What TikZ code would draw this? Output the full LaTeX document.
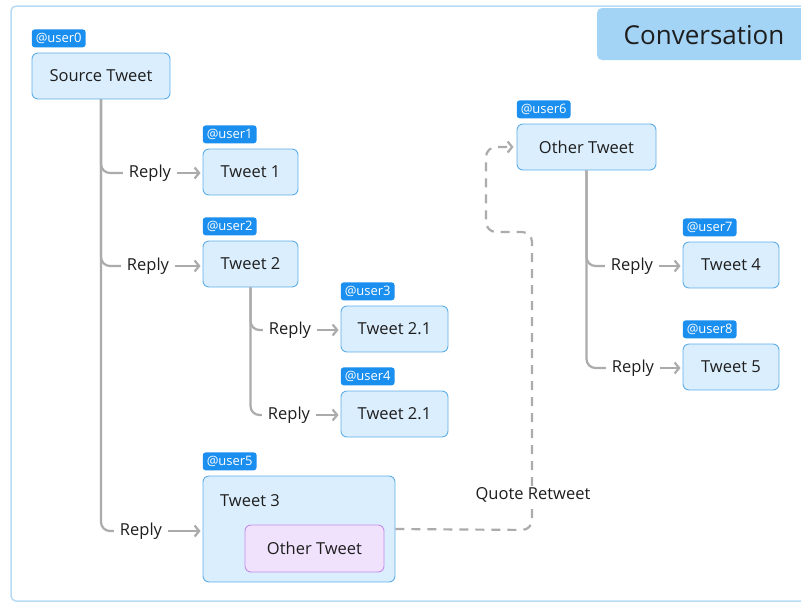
\documentclass[tikz,border=0pt]{standalone}
\usepackage{fontspec}
\setmainfont{Open Sans}
\usetikzlibrary{arrows.meta,positioning}

\definecolor{tweetfill}{HTML}{DBEEFD}
\definecolor{tweetline}{HTML}{5EAEEA}
\definecolor{tagblue}{HTML}{1A8FEF}
\definecolor{linkgray}{HTML}{ABABAB}
\definecolor{quotefill}{HTML}{F0E1FC}
\definecolor{quoteline}{HTML}{C38EEA}
\definecolor{titlefill}{HTML}{A3D4F6}
\definecolor{framecol}{HTML}{B8DBF5}
\definecolor{textcol}{HTML}{1E1E1E}

\begin{document}
\begin{tikzpicture}[x=1pt, y=-1pt, font=\fontsize{16.5}{19}\selectfont, text=textcol,
  tweet/.style={rectangle, draw=tweetline, fill=tweetfill, line width=0.9pt, rounded corners=6pt, minimum height=46pt, align=center},
  tag/.style={rectangle, fill=tagblue, text=white, rounded corners=3pt, inner xsep=4pt, inner ysep=1pt, minimum height=18pt, anchor=south west, yshift=5pt, font=\fontsize{13}{15}\selectfont},
  reply/.style={inner xsep=6pt, inner ysep=2pt},
  link/.style={draw=linkgray, line width=2.2pt, rounded corners=9pt},
  replyarrow/.style={draw=linkgray, line width=2.2pt, -{Straight Barb[length=4.5pt, width=11pt]}, shorten >=2pt},
  quote/.style={draw=linkgray, line width=2.2pt, dash pattern=on 9pt off 7pt, rounded corners=10pt, -{Straight Barb[length=4.5pt, width=11pt]}, shorten >=3pt}]

  \useasboundingbox (0,0) rectangle (801,603);
  \draw[framecol, line width=1.5pt, rounded corners=5pt] (11,6) rectangle (830,601);
  \fill[titlefill, rounded corners=5pt] (597,8) rectangle (830,60);
  \node (title) at (704,35) {\fontsize{26}{30}\selectfont Conversation};

  % Tweets
  \node[tweet, minimum width=138pt] (src) at (101,76) {Source Tweet};
  \node[tweet, minimum width=95pt] (t1) at (250.5,172) {Tweet 1};
  \node[tweet, minimum width=95pt] (t2) at (250.5,264) {Tweet 2};
  \node[tweet, minimum width=107pt] (t21) at (394.5,329) {Tweet 2.1};
  \node[tweet, minimum width=107pt] (t22) at (394.5,414) {Tweet 2.1};
  \node[tweet, minimum width=192pt, minimum height=106pt] (t3) at (299,529) {};
  \node[anchor=west, inner sep=0pt] (t3txt) at (220,501) {Tweet 3};
  \node[tweet, draw=quoteline, fill=quotefill, minimum width=139pt, minimum height=47pt] (inner) at (314.5,548.5) {Other Tweet};
  \node[tweet, minimum width=139pt] (ot) at (586.5,147) {Other Tweet};
  \node[tweet, minimum width=96pt] (t4) at (731,265) {Tweet 4};
  \node[tweet, minimum width=96pt] (t5) at (731,367) {Tweet 5};

  % User tags
  \node[tag] (u0) at (src.north west) {@user0};
  \node[tag] (u1) at (t1.north west) {@user1};
  \node[tag] (u2) at (t2.north west) {@user2};
  \node[tag] (u3) at (t21.north west) {@user3};
  \node[tag] (u4) at (t22.north west) {@user4};
  \node[tag] (u5) at (t3.north west) {@user5};
  \node[tag] (u6) at (ot.north west) {@user6};
  \node[tag] (u7) at (t4.north west) {@user7};
  \node[tag] (u8) at (t5.north west) {@user8};

  % Reply labels
  \node[reply] (r1) at (150,173) {Reply};
  \node[reply] (r2) at (148,266) {Reply};
  \node[reply] (r3) at (141,531) {Reply};
  \node[reply] (r21) at (290,330) {Reply};
  \node[reply] (r22) at (289,415) {Reply};
  \node[reply] (r4) at (632,266) {Reply};
  \node[reply] (r5) at (633,368) {Reply};

  % Reply threads
  \foreach \r in {r1,r2,r3} \draw[link] (src.south) |- (\r.west);
  \foreach \r in {r21,r22} \draw[link] (t2.south) |- (\r.west);
  \foreach \r in {r4,r5} \draw[link] (ot.south) |- (\r.west);
  \draw[replyarrow] (r1) -- (t1.west |- r1);
  \draw[replyarrow] (r2) -- (t2.west |- r2);
  \draw[replyarrow] (r3) -- (t3.west |- r3);
  \draw[replyarrow] (r21) -- (t21.west |- r21);
  \draw[replyarrow] (r22) -- (t22.west |- r22);
  \draw[replyarrow] (r4) -- (t4.west |- r4);
  \draw[replyarrow] (r5) -- (t5.west |- r5);

  % Quote retweet
  \draw[quote] (t3.east) -- (532,530) -- (532,232) -- (486,232) |- (ot.west);
  \node[fill=white, inner sep=2pt] (qrt) at (533,495) {Quote Retweet};
\end{tikzpicture}
\end{document}
